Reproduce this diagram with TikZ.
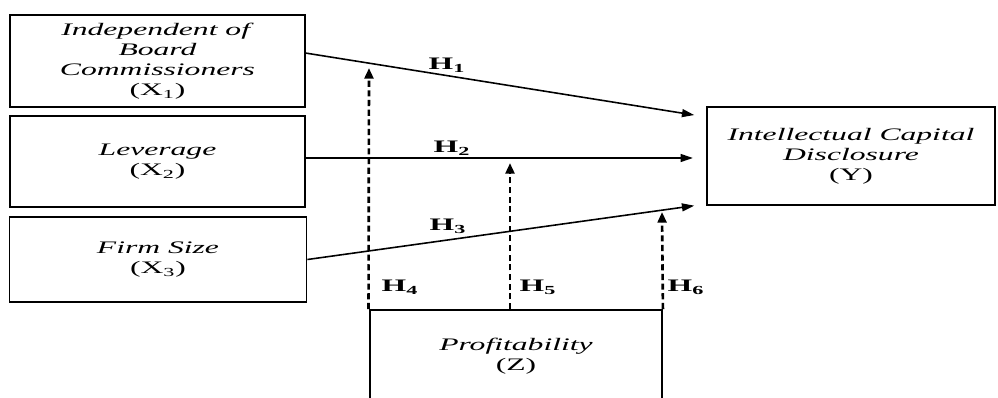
\documentclass[tikz,border=0pt]{standalone}
\usepackage{fontspec}
\setmainfont{Liberation Serif}[FakeStretch=1.8]
\usetikzlibrary{arrows.meta, calc}
\tikzset{
	varnode/.style={
			rectangle,
			draw=black,
			line width=1.1pt,
			align=center,
			inner sep=0pt,
			font=\fontsize{10}{11.4}\selectfont
		},
	pathline/.style={
			line width=0.9pt,
			-{Triangle[length=7pt,width=4.5pt]}
		},
	modline/.style={
			line width=1.5pt,
			dash pattern=on 3.5pt off 2pt,
			-{Triangle[length=6pt,width=5pt]}
		},
	hlabel/.style={
			inner sep=0pt,
			font=\fontsize{10}{12}\selectfont\bfseries
		}
}

\begin{document}
\begin{tikzpicture}[x=0.02cm, y=-0.02cm]
\useasboundingbox (0,0) rectangle (998,397);
\clip (0,0) rectangle (998,397);
    \node[varnode, minimum width=5.9cm, minimum height=1.84cm] (x1) at (157.5,61)
        {\textit{Independent of}\\\textit{Board}\\\textit{Commissioners}\\(X\textsubscript{1})};
    \node[varnode, minimum width=5.9cm, minimum height=1.82cm] (x2) at (157.5,161.5)
        {\textit{Leverage}\\(X\textsubscript{2})};
    \node[varnode, minimum width=5.94cm, minimum height=1.7cm] (x3) at (158,259.5)
        {\textit{Firm Size}\\(X\textsubscript{3})};
    \node[varnode, minimum width=5.76cm, minimum height=1.96cm] (y) at (851,156)
        {\textit{Intellectual Capital}\\\textit{Disclosure}\\(Y)};
    \node[varnode, minimum width=5.84cm, minimum height=1.84cm] (z) at (516,356)
        {\textit{Profitability}\\(Z)};

    \coordinate (m4) at (369,68);
    \coordinate (m5) at (510,163);
    \coordinate (m6) at (662,212);

    \draw[pathline, shorten >=6.8pt] ([yshift=4.5pt]x1.east) -- ([yshift=-6.2pt]y.north west);
    \draw[pathline, shorten >=7.5pt] ([yshift=2pt]x2.east) -- ([yshift=2pt]x2.east -| y.west);
    \draw[pathline, shorten >=6.8pt] (x3.east) -- ([yshift=1.1pt]y.south west);

    \draw[modline] ([xshift=-0.3pt]z.north west) -- (m4);
    \draw[modline] (z.north -| m5) -- (m5);
    \draw[modline] (z.north east) -- (m6);

    \node[hlabel] (h1) at (447,65) {H\textsubscript{1}};
    \node[hlabel] (h2) at (452,148) {H\textsubscript{2}};
    \node[hlabel] (h3) at (448,226) {H\textsubscript{3}};
    \node[hlabel] (h4) at (400,287) {H\textsubscript{4}};
    \node[hlabel] (h5) at (538,287) {H\textsubscript{5}};
    \node[hlabel] (h6) at (686,287) {H\textsubscript{6}};
\end{tikzpicture}
\end{document}
